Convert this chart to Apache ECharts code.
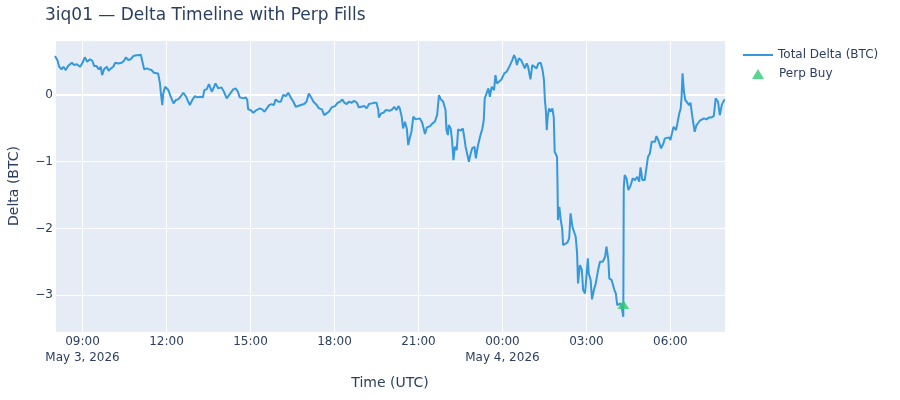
<!DOCTYPE html>
<html>
<head>
<meta charset="utf-8">
<title>3iq01 Delta Timeline</title>
<script src="https://cdn.jsdelivr.net/npm/echarts@6/dist/echarts.min.js"></script>
<style>
html, body { margin: 0; padding: 0; background: #fff; }
#chart { width: 900px; height: 400px; }
</style>
</head>
<body>
<div id="chart"></div>
<script>
// time is kept as minutes after midnight UTC, May 3 2026
var startMin = 481;   // 08:01
var endMin = 1917;    // 07:57 next day

// minutes after the start
var offsetMin = [
  0, 5, 9, 14, 18, 23, 28, 36, 41, 46, 54, 59, 64, 69, 75, 80, 84, 89, 94, 98,
  101, 105, 111, 115, 120, 125, 129, 136, 143, 148, 152, 157, 162, 168, 174, 179, 184, 188, 191, 197,
  202, 207, 212, 216, 221, 225, 227, 230, 232, 236, 239, 243, 248, 254, 259, 264, 269, 275, 281, 284,
  289, 295, 300, 305, 311, 317, 320, 325, 330, 336, 341, 344, 350, 357, 362, 368, 373,
  377, 382, 387, 392, 396, 404, 409, 412, 414, 419, 425, 430, 434, 439, 444, 449, 454, 459, 464, 469,
  473, 479, 484, 489, 495, 500, 505, 511, 516, 521, 527, 534, 539, 544, 549, 554, 561, 566, 572, 577,
  582, 587, 593, 600, 606, 611, 616, 620, 625, 630, 636, 641, 647, 651, 657, 663, 668, 673, 679, 684,
  689, 693, 694, 699, 704, 709, 713, 718, 723, 727, 732, 736, 739,
  743, 746, 750, 754, 757, 761, 764, 768, 773, 777, 782, 787, 793, 797, 804, 809, 814, 819, 823, 827,
  832, 837, 839, 842, 844, 848, 851, 854, 857, 861, 864, 869, 874, 877, 880, 884, 887, 891, 894, 899,
  902, 906, 911, 916, 919, 921, 925, 929, 932, 936, 941, 944, 947, 951, 957, 963, 968, 973, 977, 980,
  984, 987, 990, 994, 999, 1004, 1007, 1011, 1014, 1019, 1023, 1027, 1032, 1036, 1041, 1045, 1048, 1050, 1052, 1054,
  1056, 1059, 1062, 1066, 1069, 1071, 1076, 1077, 1078, 1081, 1084, 1087, 1089, 1093, 1098, 1102, 1105, 1109, 1113, 1116,
  1119, 1121, 1125, 1129, 1132, 1136, 1139, 1142, 1144, 1148, 1151, 1155, 1159, 1164, 1168, 1174, 1179, 1182, 1186, 1188,
  1193, 1196, 1199, 1202, 1205, 1209, 1212, 1215, 1218, 1219, 1221, 1225, 1229, 1234, 1238, 1243, 1248, 1252, 1255, 1259,
  1264, 1268, 1271, 1275, 1279, 1282, 1286, 1289, 1293, 1296, 1299, 1304, 1307, 1311, 1316, 1319, 1324, 1326, 1331, 1334,
  1338, 1341, 1343, 1345, 1348, 1351, 1355, 1359, 1362, 1366, 1371, 1375, 1378, 1382, 1386, 1391, 1396, 1402, 1407, 1412,
  1416, 1421, 1425, 1429, 1434, 1436
];

// total delta in BTC at each of those times
var delta = [
  0.586, 0.526, 0.425, 0.386, 0.425, 0.375, 0.435, 0.485, 0.45, 0.465, 0.425, 0.485, 0.566, 0.50, 0.536, 0.515, 0.435, 0.435, 0.386, 0.425,
  0.30, 0.386, 0.425, 0.365, 0.40, 0.425, 0.485, 0.475, 0.485, 0.515, 0.566, 0.526, 0.536, 0.586, 0.596, 0.596, 0.605, 0.575, 0.386, 0.40,
  0.386, 0.375, 0.335, 0.325, 0.325, 0.175, 0.025, -0.15, 0.025, 0.125, 0.15, 0.075, -0.025, -0.125, -0.075, -0.065, -0.025, 0.035, -0.025, -0.075,
  -0.15, -0.065, -0.015, -0.035, -0.025, -0.035, 0.075, 0.085, 0.165, 0.05, 0.125, 0.175, 0.10, 0.115, 0.05, -0.05, 0,
  -0.025, 0.085, 0.10, 0.05, -0.035, -0.05, -0.035, -0.075, -0.215, -0.225, -0.265, -0.235, -0.25, -0.20, -0.215, -0.25, -0.20, -0.15, -0.135, -0.15,
  -0.065, -0.10, -0.10, 0, -0.015, 0.035, -0.035, -0.10, -0.175, -0.165, -0.15, -0.135, -0.10, 0.025, -0.035, -0.10, -0.15, -0.20, -0.215, -0.30,
  -0.275, -0.25, -0.185, -0.165, -0.115, -0.10, -0.065, -0.115, -0.135, -0.10, -0.115, -0.085, -0.115, -0.185, -0.175, -0.165, -0.20, -0.135, -0.125, -0.115,
  -0.115, -0.225, -0.335, -0.275, -0.265, -0.225, -0.25, -0.235, -0.215, -0.175, -0.225, -0.165, -0.20,
  -0.325, -0.50, -0.40, -0.50, -0.75, -0.625, -0.55, -0.325, -0.365, -0.335, -0.35, -0.415, -0.585, -0.485, -0.465, -0.425, -0.40, -0.30, 0, -0.065,
  -0.10, -0.225, -0.525, -0.60, -0.45, -0.50, -0.675, -0.975, -0.775, -0.825, -0.515, -0.535, -0.50, -0.625, -0.775, -0.90, -1.00, -0.875, -0.80, -0.775,
  -0.95, -0.775, -0.625, -0.50, -0.375, -0.05, -0.025, 0.10, -0.025, 0.125, 0.075, 0.30, 0.175, 0.20, 0.235, 0.325, 0.35, 0.415, 0.475, 0.525,
  0.60, 0.55, 0.45, 0.55, 0.525, 0.45, 0.40, 0.475, 0.425, 0.235, 0.45, 0.465, 0.40, 0.475, 0.485, 0.375, 0.225, -0.075, -0.225, -0.525,
  -0.325, -0.20, -0.25, -0.20, -0.335, -0.85, -0.925, -1.325, -1.875, -1.675, -1.875, -2.00, -2.25, -2.225, -2.215, -2.15, -1.775, -1.975, -2.00, -2.125,
  -2.375, -2.825, -2.55, -2.615, -2.925, -2.975, -2.725, -2.45, -2.675, -2.775, -3.065, -2.925, -2.825, -2.625, -2.50, -2.50, -2.425, -2.275, -2.475, -2.75,
  -2.775, -2.75, -2.925, -2.975, -3.15, -3.175, -3.125, -3.20, -3.325, -1.40, -1.20, -1.25, -1.425, -1.35, -1.25, -1.275, -1.225, -1.30, -1.085, -1.275,
  -1.275, -1.075, -0.925, -0.875, -0.70, -0.675, -0.70, -0.615, -0.675, -0.65, -0.80, -0.725, -0.65, -0.625, -0.635, -0.675, -0.525, -0.475, -0.525, -0.425,
  -0.275, -0.20, -0.025, 0.325, 0.05, -0.075, -0.065, -0.15, -0.115, -0.325, -0.55, -0.45, -0.475, -0.385, -0.40, -0.35, -0.365, -0.335, -0.335, -0.315,
  -0.05, -0.10, -0.30, -0.15, -0.075, -0.08
];

// perp fills
var fillOffset = [1218];
var fillDelta = [-3.14];

// date shown under the hour label
var dateTicks = [540, 1440];
var dateNames = ['May 3, 2026', 'May 4, 2026'];

var chart = echarts.init(document.getElementById('chart'));

var font = '"DejaVu Sans", Verdana, sans-serif';
var ink = '#2a3f5f';

function pad(n) { return (n < 10 ? '0' : '') + n; }

var deltaData = offsetMin.map(function (m, i) { return [startMin + m, delta[i]]; });
var fillData = fillOffset.map(function (m, i) { return [startMin + m, fillDelta[i]]; });

option = {
  animation: false,
  backgroundColor: '#fff',
  textStyle: { fontFamily: font, color: ink },
  title: {
    text: '3iq01 — Delta Timeline with Perp Fills',
    left: 45,
    top: 7,
    padding: 0,
    textStyle: { fontFamily: font, fontSize: 17, fontWeight: 'normal', color: ink }
  },
  legend: [
    {
      data: [{ name: 'Total Delta (BTC)', icon: 'rect' }],
      left: 743, top: 49, padding: 0,
      itemWidth: 30, itemHeight: 2,
      textStyle: { fontFamily: font, fontSize: 12, color: ink }
    },
    {
      data: [{ name: 'Perp Buy', icon: 'triangle' }],
      left: 752, top: 68, padding: 0,
      itemWidth: 12, itemHeight: 10,
      textStyle: { fontFamily: font, fontSize: 12, color: ink, padding: [0, 0, 0, 10] }
    }
  ],
  grid: {
    left: 55, right: 175, top: 40, bottom: 68,
    show: true, backgroundColor: '#E5ECF6', borderWidth: 0,
    containLabel: false, outerBoundsMode: 'none'
  },
  xAxis: {
    type: 'value',
    min: startMin,
    max: endMin,
    minInterval: 180,
    maxInterval: 180,
    axisLine: { show: false },
    axisTick: { show: false },
    splitLine: { lineStyle: { color: '#fff', width: 1 } },
    axisLabel: {
      showMinLabel: false,
      showMaxLabel: false,
      margin: 2,
      fontFamily: font, fontSize: 12, color: ink, lineHeight: 16,
      formatter: function (v) {
        var s = pad(Math.floor(v / 60) % 24) + ':' + pad(Math.round(v % 60));
        var i = dateTicks.indexOf(v);
        if (i >= 0) s += '\n' + dateNames[i];
        return s;
      }
    },
    name: 'Time (UTC)',
    nameLocation: 'middle',
    nameGap: 44,
    nameTextStyle: { fontFamily: font, fontSize: 14, color: ink }
  },
  yAxis: {
    type: 'value',
    min: -3.554,
    max: 0.826,
    minInterval: 1,
    maxInterval: 1,
    axisLine: { show: false },
    axisTick: { show: false },
    splitLine: { lineStyle: { color: '#fff', width: 1 } },
    axisLabel: {
      showMinLabel: false,
      showMaxLabel: false,
      margin: 2,
      fontFamily: font, fontSize: 12, color: ink,
      formatter: function (v) {
        var r = Math.round(v);
        return r < 0 ? '\u2212' + Math.abs(r) : String(r);
      }
    },
    name: 'Delta (BTC)',
    nameLocation: 'middle',
    nameGap: 34,
    nameTextStyle: { fontFamily: font, fontSize: 14, color: ink }
  },
  series: [
    {
      name: 'zero',
      type: 'line',
      data: [[startMin, 0], [endMin, 0]],
      symbol: 'none',
      silent: true,
      lineStyle: { color: '#fff', width: 2 },
      itemStyle: { color: '#fff' },
      z: 1
    },
    {
      name: 'Total Delta (BTC)',
      type: 'line',
      data: deltaData,
      symbol: 'none',
      showSymbol: false,
      lineStyle: { color: '#3498db', width: 2 },
      itemStyle: { color: '#3498db' },
      z: 3
    },
    {
      name: 'Perp Buy',
      type: 'scatter',
      data: fillData,
      symbol: 'triangle',
      symbolSize: [12, 9],
      itemStyle: { color: '#2ecc71' },
      z: 4
    }
  ]
};

chart.setOption(option);
</script>
</body>
</html>
